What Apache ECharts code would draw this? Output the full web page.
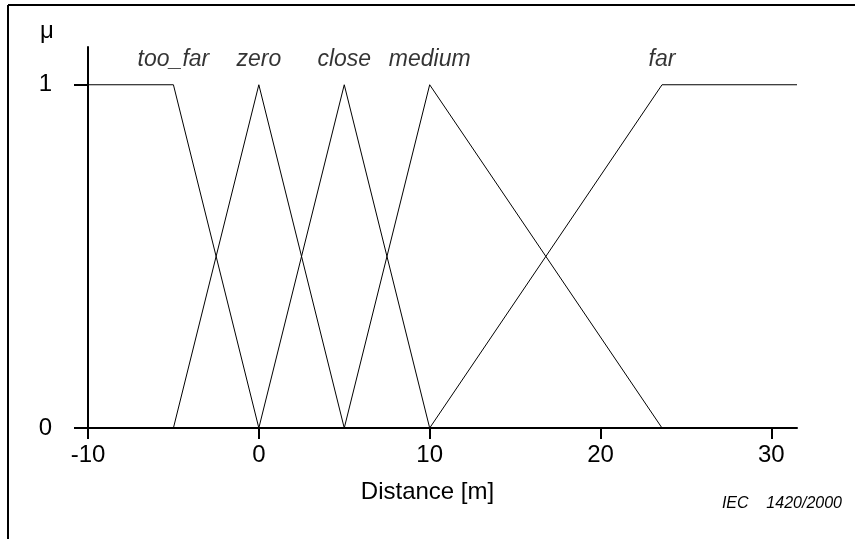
<!DOCTYPE html>
<html lang="en">
<head>
    <meta charset="UTF-8">
    <title>Distance membership functions</title>
    <style>
        html, body { margin: 0; padding: 0; background: #fff; }
        #chart { width: 855px; height: 539px; }
    </style>
</head>
<body>
    <div id="chart"></div>
</body>
<script src="https://cdn.jsdelivr.net/npm/echarts@6/dist/echarts.min.js"></script>
<script type="text/javascript">
    // fuzzy sets for distance, breakpoints
    var setNames = ['too_far', 'zero', 'close', 'medium', 'far'];
    var setX = [
        [-10, -5, 0],
        [-5, 0, 5],
        [0, 5, 10],
        [5, 10, 23.6],
        [10, 23.6, 31.5]
    ];
    var setMu = [
        [1, 1, 0],
        [0, 1, 0],
        [0, 1, 0],
        [0, 1, 0],
        [0, 1, 1]
    ];
    // where the set name sits (x of the corner it labels)
    var nameAt = [-5, 0, 5, 10, 23.6];

    var xTicks = [-10, 0, 10, 20, 30];
    var yTicks = [0, 1];

    var font = '"Liberation Sans", Arial, sans-serif';

    window.onload = function () {
        var myChart = echarts.init(document.getElementById('chart'));

        var series = [];
        setNames.forEach(function (name, i) {
            var pts = setX[i].map(function (x, j) { return [x, setMu[i][j]]; });
            series.push({
                name: name,
                type: 'line',
                data: pts,
                symbol: 'none',
                lineStyle: { color: '#000', width: 1 },
                silent: true
            });
        });

        // names above the sets
        series.push({
            name: 'names',
            type: 'scatter',
            symbolSize: 1,
            itemStyle: { color: 'rgba(0,0,0,0)' },
            silent: true,
            label: {
                show: true,
                position: 'top',
                distance: 13,
                formatter: function (p) { return p.value[2]; },
                color: '#000',
                fontFamily: font,
                fontStyle: 'italic',
                fontSize: 23
            },
            data: nameAt.map(function (x, i) { return [x, 1, setNames[i]]; })
        });

        myChart.setOption({
            animation: false,
            grid: { left: 88, right: 58, top: 47, bottom: 111 },
            xAxis: {
                type: 'value',
                min: -10,
                max: 31.5,
                splitLine: { show: false },
                axisLine: { onZero: false, lineStyle: { color: '#000', width: 2 } },
                axisTick: { customValues: xTicks, length: 11, lineStyle: { color: '#000', width: 2 } },
                axisLabel: { customValues: xTicks, margin: 15, color: '#000', fontSize: 24, fontFamily: font },
                name: 'Distance [m]',
                nameLocation: 'middle',
                nameGap: 52,
                nameTextStyle: { color: '#000', fontSize: 24, fontFamily: font, padding: [0, 30, 0, 0] }
            },
            yAxis: {
                type: 'value',
                min: 0,
                max: 1.11,
                splitLine: { show: false },
                axisLine: { show: true, onZero: false, lineStyle: { color: '#000', width: 2 } },
                axisTick: { show: true, customValues: yTicks, length: 14, lineStyle: { color: '#000', width: 2 } },
                axisLabel: { customValues: yTicks, margin: 36, color: '#000', fontSize: 24, fontFamily: font }
            },
            graphic: [
                { type: 'line', shape: { x1: 8, y1: 5, x2: 855, y2: 5 }, style: { stroke: '#000', lineWidth: 2 } },
                { type: 'line', shape: { x1: 8, y1: 5, x2: 8, y2: 539 }, style: { stroke: '#000', lineWidth: 2 } },
                {
                    type: 'text', left: 40, top: 19,
                    style: { text: 'μ', fill: '#000', font: '24px ' + font }
                },
                {
                    type: 'text', right: 13, top: 496,
                    style: { text: 'IEC    1420/2000', fill: '#000', font: 'italic 16px ' + font }
                }
            ],
            series: series
        });
    }
</script>
</html>
